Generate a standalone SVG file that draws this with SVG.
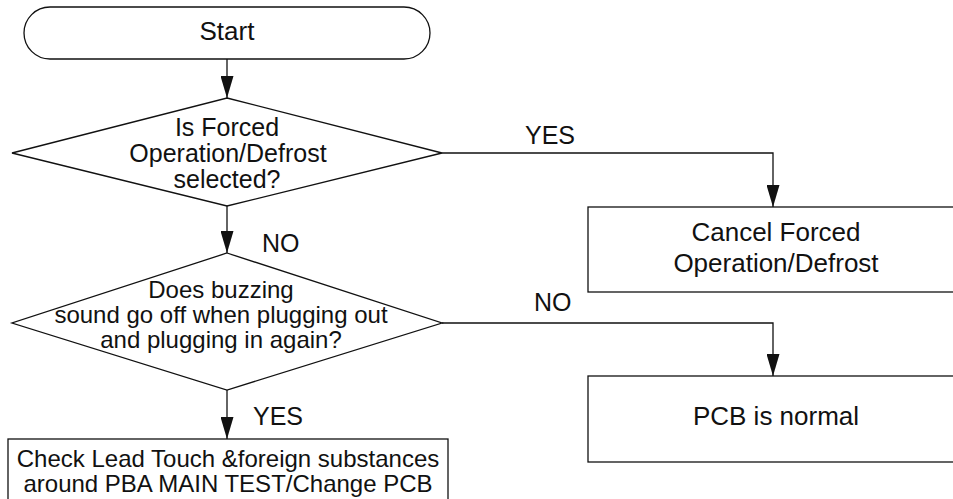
<svg xmlns="http://www.w3.org/2000/svg" width="953" height="499" viewBox="0 0 953 499">
<defs>
<style>
.shape{fill:#fff;stroke:#111;stroke-width:1.3}
.conn{fill:none;stroke:#111;stroke-width:1.3}
text{font-family:"Liberation Sans",Arial,sans-serif;fill:#111;text-anchor:middle}
.t26{font-size:26px}
.t25{font-size:25px}
.t24{font-size:24px}
.lbl{font-size:25px;text-anchor:start}
</style>
<marker id="arr" viewBox="0 0 22 13" refX="22" refY="6.5" markerWidth="22" markerHeight="13" markerUnits="userSpaceOnUse" orient="auto">
<path d="M0,0 L22,6.5 L0,13 z" fill="#111"/>
</marker>
</defs>
<rect width="953" height="499" fill="#fff"/>
<g id="connectors">
<path class="conn" d="M227,59 V98" marker-end="url(#arr)"/>
<path class="conn" d="M227,206 V253" marker-end="url(#arr)"/>
<path class="conn" d="M227,390 V439" marker-end="url(#arr)"/>
<path class="conn" d="M442,153 H773 V207" marker-end="url(#arr)"/>
<path class="conn" d="M442,323 H773 V376" marker-end="url(#arr)"/>
<text class="lbl" x="525" y="144">YES</text>
<text class="lbl" x="262" y="252">NO</text>
<text class="lbl" x="534" y="311">NO</text>
<text class="lbl" x="253" y="425">YES</text>
</g>
<g id="start">
<rect class="shape" x="24" y="7" width="406" height="52" rx="26" ry="26"/>
<text class="t26" x="227" y="40">Start</text>
</g>
<g id="decision1">
<polygon class="shape" points="227,98 442,153 227,206 12,153"/>
<text class="t25" x="227" y="136">Is Forced</text>
<text class="t25" x="228" y="162">Operation/Defrost</text>
<text class="t25" x="227" y="188">selected?</text>
</g>
<g id="cancel">
<rect class="shape" x="588" y="207" width="380" height="85"/>
<text class="t26" x="776" y="241">Cancel Forced</text>
<text class="t26" x="776" y="272">Operation/Defrost</text>
</g>
<g id="decision2">
<polygon class="shape" points="227,253 442,323 227,390 12,323"/>
<text class="t24" x="221" y="298">Does buzzing</text>
<text class="t24" x="221" y="323">sound go off when plugging out</text>
<text class="t24" x="221" y="348">and plugging in again?</text>
</g>
<g id="normal">
<rect class="shape" x="588" y="376" width="380" height="86"/>
<text class="t26" x="776" y="425">PCB is normal</text>
</g>
<g id="check">
<rect class="shape" x="8" y="439" width="440" height="80"/>
<text class="t24" x="228" y="467">Check Lead Touch &amp;foreign substances</text>
<text class="t24" x="228" y="492">around PBA MAIN TEST/Change PCB</text>
</g>
</svg>
